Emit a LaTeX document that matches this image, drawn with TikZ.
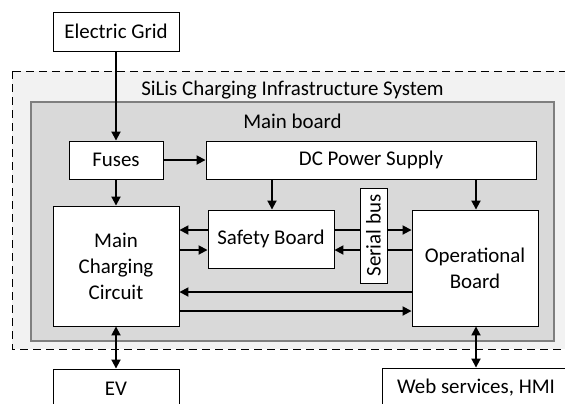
\documentclass[tikz,border=0pt]{standalone}
\usepackage{fontspec}
\setmainfont{Carlito}
\usetikzlibrary{arrows.meta}
\definecolor{outerbg}{HTML}{F2F2F2}
\definecolor{boardbg}{HTML}{D9D9D9}
\definecolor{boardln}{HTML}{7F7F7F}
\tikzset{
  box/.style={draw=black, line width=0.9bp, fill=white, inner sep=0pt, align=center,
    font=\fontsize{21}{26}\selectfont},
  arr/.style={line width=1.8bp, -{Triangle[length=9bp,width=9bp]}},
  darr/.style={line width=1.8bp, {Triangle[length=9bp,width=9bp]}-{Triangle[length=9bp,width=9bp]}},
  lbl/.style={font=\fontsize{21}{26}\selectfont, inner sep=0pt}
}
\begin{document}
\begin{tikzpicture}[x=1bp, y=-1bp]
\useasboundingbox (0,0) rectangle (565,403);
\clip (0,0) rectangle (565,403);
% outer system
\draw[fill=outerbg, dash pattern=on 8bp off 5bp, line width=1bp] (12,71) rectangle (590,349);
\node[lbl] (sys) at (292.5,90) {SiLis Charging Infrastructure System};
% main board
\draw[fill=boardbg, draw=boardln, line width=1.5bp] (31,102) rectangle (554,341);
\node[lbl] (mb) at (292.5,121) {Main board};
% nodes
\node[box, minimum width=126bp, minimum height=39bp] (grid) at (116,31.5) {Electric Grid};
\node[box, minimum width=94bp, minimum height=38bp] (fuses) at (116,160) {Fuses};
\node[box, minimum width=330bp, minimum height=38bp] (dc) at (371,160) {DC Power Supply};
\node[box, minimum width=126bp, minimum height=120bp] (mcc) at (116,266) {Main\\Charging\\Circuit};
\node[box, minimum width=126bp, minimum height=58bp] (safety) at (271,239) {Safety Board};
\node[box, minimum width=126bp, minimum height=116bp] (op) at (475,268) {Operational\\Board};
\node[box, minimum width=126bp, minimum height=39bp] (ev) at (116,388.5) {EV};
\node[box, minimum width=188bp, minimum height=39bp] (web) at (476,387.5) {Web services, HMI};
% y levels
\coordinate (ya) at (0,230);
\coordinate (yb) at (0,250);
\coordinate (yc) at (0,292);
\coordinate (yd) at (0,311);
\coordinate (xs) at (272,0);
\coordinate (xo) at (476,0);
% connectors
\draw[arr] (grid.south) -- (fuses.north);
\draw[arr] (fuses.east) -- (dc.west);
\draw[arr] (fuses.south) -- (mcc.north);
\draw[arr] (dc.south -| xs) -- (safety.north -| xs);
\draw[arr] (dc.south -| xo) -- (op.north -| xo);
\draw[arr] (safety.west |- ya) -- (mcc.east |- ya);
\draw[arr] (mcc.east |- yb) -- (safety.west |- yb);
\draw[arr] (safety.east |- ya) -- (op.west |- ya);
\draw[arr] (op.west |- yb) -- (safety.east |- yb);
\draw[arr] (op.west |- yc) -- (mcc.east |- yc);
\draw[arr] (mcc.east |- yd) -- (op.west |- yd);
\draw[darr] (mcc.south) -- (ev.north);
\draw[darr] (op.south -| xo) -- (web.north -| xo);
% serial bus on top of the bus lines
\node[box, minimum width=27bp, minimum height=95bp] (serial) at (373.5,235.5) {\rotatebox{90}{Serial bus}};
\end{tikzpicture}
\end{document}
